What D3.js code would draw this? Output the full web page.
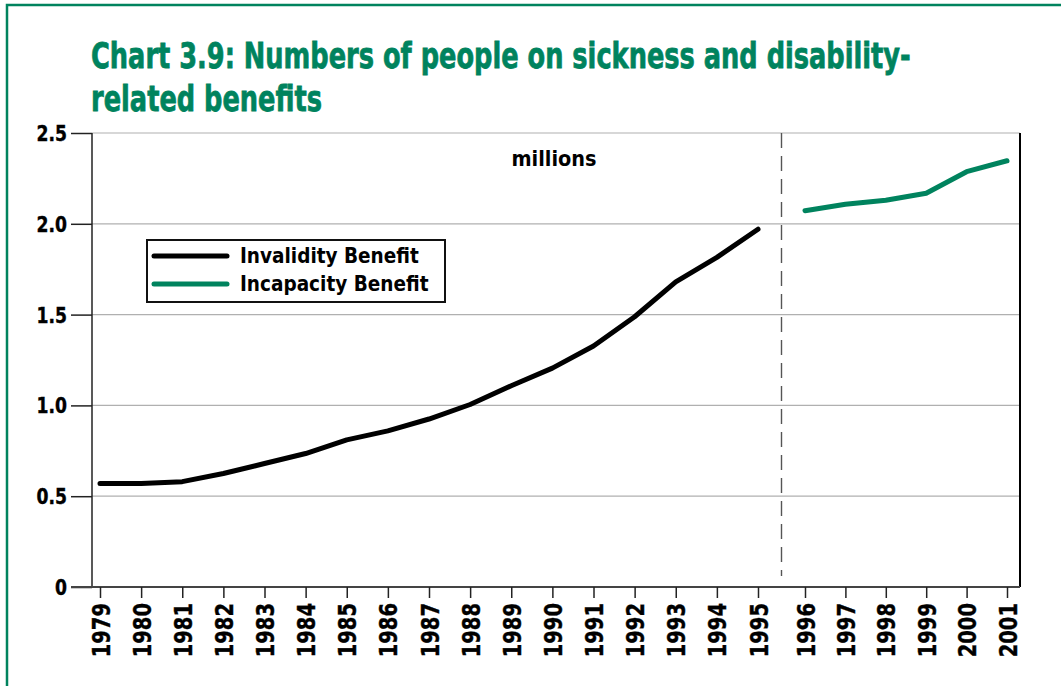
<!DOCTYPE html>
<html>
<head>
<meta charset="utf-8">
<script src="https://cdn.jsdelivr.net/npm/d3@7"></script>
<style>
  body { margin: 0; background: white; }
  svg { display: block; }
  text { font-family: "DejaVu Sans", sans-serif; font-weight: bold; }
</style>
</head>
<body>
<div id="chart"></div>
<script>
// data (millions)
var years_invalidity = [1979, 1980, 1981, 1982, 1983, 1984, 1985, 1986, 1987, 1988, 1989, 1990, 1991, 1992, 1993, 1994, 1995];
var invalidity = [0.57, 0.57, 0.58, 0.625, 0.68, 0.735, 0.81, 0.86, 0.925, 1.005, 1.108, 1.205, 1.327, 1.488, 1.68, 1.815, 1.97];
var years_incapacity = [1996, 1997, 1998, 1999, 2000, 2001];
var incapacity = [2.072, 2.108, 2.13, 2.168, 2.287, 2.347];
var tick_years = [1979, 1980, 1981, 1982, 1983, 1984, 1985, 1986, 1987, 1988, 1989, 1990, 1991, 1992, 1993, 1994, 1995, 1996, 1997, 1998, 1999, 2000, 2001];
var y_ticks = [0, 0.5, 1.0, 1.5, 2.0, 2.5];
var legend_names = ["Invalidity Benefit", "Incapacity Benefit"];

var green = "#00835e";
var width = 1061, height = 686;

var svg = d3.select("#chart")
  .append("svg")
  .attr("width", width)
  .attr("height", height);

// green frame
svg.append("rect")
  .attr("x", 7).attr("y", 5)
  .attr("width", width + 20).attr("height", height + 20)
  .attr("fill", "white")
  .attr("stroke", green)
  .attr("stroke-width", 2.5);

// title, squeezed to the narrow face of the original
var title = svg.append("g");
var title_text = title.append("text")
  .attr("fill", green)
  .attr("stroke", green)
  .attr("stroke-width", 0.8)
  .style("font-size", "36px");
title_text.append("tspan").attr("x", 0).attr("y", 68).text("Chart 3.9: Numbers of people on sickness and disability-");
title_text.append("tspan").attr("x", 0).attr("y", 111).text("related benefits");
var first_w = title_text.select("tspan").node().getComputedTextLength();
title.attr("transform", "translate(91,0)scale(" + (820 / first_w) + ",1)");

var plot_left = 92, plot_right = 1020, plot_top = 133, plot_bottom = 587;

// the break between the two benefits leaves a slightly wider gap
var xscale = d3.scaleLinear()
  .domain([1979, 1995, 1996, 2001])
  .range([100, 758, 805, 1007]);

var yscale = d3.scaleLinear()
  .domain([0, 2.5])
  .range([plot_bottom, plot_top]);

// gridlines
svg.append("g")
  .selectAll("line")
  .data(y_ticks.filter(d => d > 0))
  .enter().append("line")
  .attr("x1", plot_left).attr("x2", plot_right)
  .attr("y1", d => yscale(d)).attr("y2", d => yscale(d))
  .attr("stroke", "#b0b0b0")
  .attr("stroke-width", 1.2);

// right border
svg.append("line")
  .attr("x1", plot_right).attr("x2", plot_right)
  .attr("y1", plot_top).attr("y2", plot_bottom)
  .attr("stroke", "black").attr("stroke-width", 2);

// y axis
var yAxis = svg.append("g")
  .attr("transform", "translate(" + plot_left + ",0)")
  .call(d3.axisLeft(yscale).tickValues(y_ticks).tickSize(21)
    .tickFormat(d => d === 0 ? "0" : d3.format(".1f")(d)));
yAxis.select(".domain").attr("stroke", "#222").attr("stroke-width", 1.5)
  .attr("d", "M0," + plot_top + "V" + plot_bottom);
yAxis.selectAll(".tick line").attr("stroke", "#222").attr("stroke-width", 1.5);
yAxis.selectAll("text")
  .style("font-size", "21px")
  .attr("fill", "black")
  .attr("stroke", "black")
  .attr("stroke-width", 0.4)
  .attr("x", 0)
  .attr("dy", "0.36em")
  .attr("transform", "translate(-25,0)scale(0.82,1)");

// x axis
var xAxis = svg.append("g")
  .attr("transform", "translate(0," + plot_bottom + ")")
  .call(d3.axisBottom(xscale).tickValues(tick_years).tickSize(11).tickFormat(d3.format("d")));
xAxis.select(".domain").attr("stroke", "#444").attr("stroke-width", 2)
  .attr("d", "M" + (plot_left - 21) + ",0H" + plot_right);
xAxis.selectAll(".tick line").attr("stroke", "#222").attr("stroke-width", 1.5);
xAxis.selectAll("text")
  .style("font-size", "25px")
  .attr("fill", "black")
  .attr("stroke", "black")
  .attr("stroke-width", 0.4)
  .attr("y", 0)
  .attr("dy", "0")
  .attr("transform", "translate(9,16)rotate(-90)scale(0.78,1)")
  .style("text-anchor", "end");

// dashed separator
var sep_x = (xscale(1995) + xscale(1996)) / 2;
svg.append("line")
  .attr("x1", sep_x).attr("x2", sep_x)
  .attr("y1", plot_top).attr("y2", 576)
  .attr("stroke", "#555")
  .attr("stroke-width", 1.4)
  .attr("stroke-dasharray", "15,8");

// lines
var line = d3.line()
  .x(d => xscale(d[0]))
  .y(d => yscale(d[1]));

svg.append("path")
  .datum(d3.zip(years_invalidity, invalidity))
  .attr("fill", "none")
  .attr("stroke", "black")
  .attr("stroke-width", 5)
  .attr("stroke-linecap", "round")
  .attr("stroke-linejoin", "round")
  .attr("d", line);

svg.append("path")
  .datum(d3.zip(years_incapacity, incapacity))
  .attr("fill", "none")
  .attr("stroke", green)
  .attr("stroke-width", 5)
  .attr("stroke-linecap", "round")
  .attr("stroke-linejoin", "round")
  .attr("d", line);

// units label
svg.append("text")
  .attr("x", 0).attr("y", 166)
  .attr("text-anchor", "middle")
  .attr("transform", "translate(554,0)scale(0.92,1)")
  .style("font-size", "21px")
  .text("millions");

// legend
var legend = svg.append("g").attr("transform", "translate(147,240)");
legend.append("rect")
  .attr("width", 298).attr("height", 62)
  .attr("fill", "white")
  .attr("stroke", "#111")
  .attr("stroke-width", 2);
var items = legend.selectAll("g.item")
  .data(legend_names)
  .enter().append("g")
  .attr("class", "item")
  .attr("transform", (d, i) => "translate(0," + (16 + i * 28) + ")");
items.append("line")
  .attr("x1", 7).attr("x2", 80)
  .attr("stroke", (d, i) => i === 0 ? "black" : green)
  .attr("stroke-width", 5)
  .attr("stroke-linecap", "round");
items.append("text")
  .attr("x", 0).attr("y", 7)
  .attr("transform", "translate(93,0)scale(0.88,1)")
  .style("font-size", "21px")
  .text(d => d);
</script>
</body>
</html>
